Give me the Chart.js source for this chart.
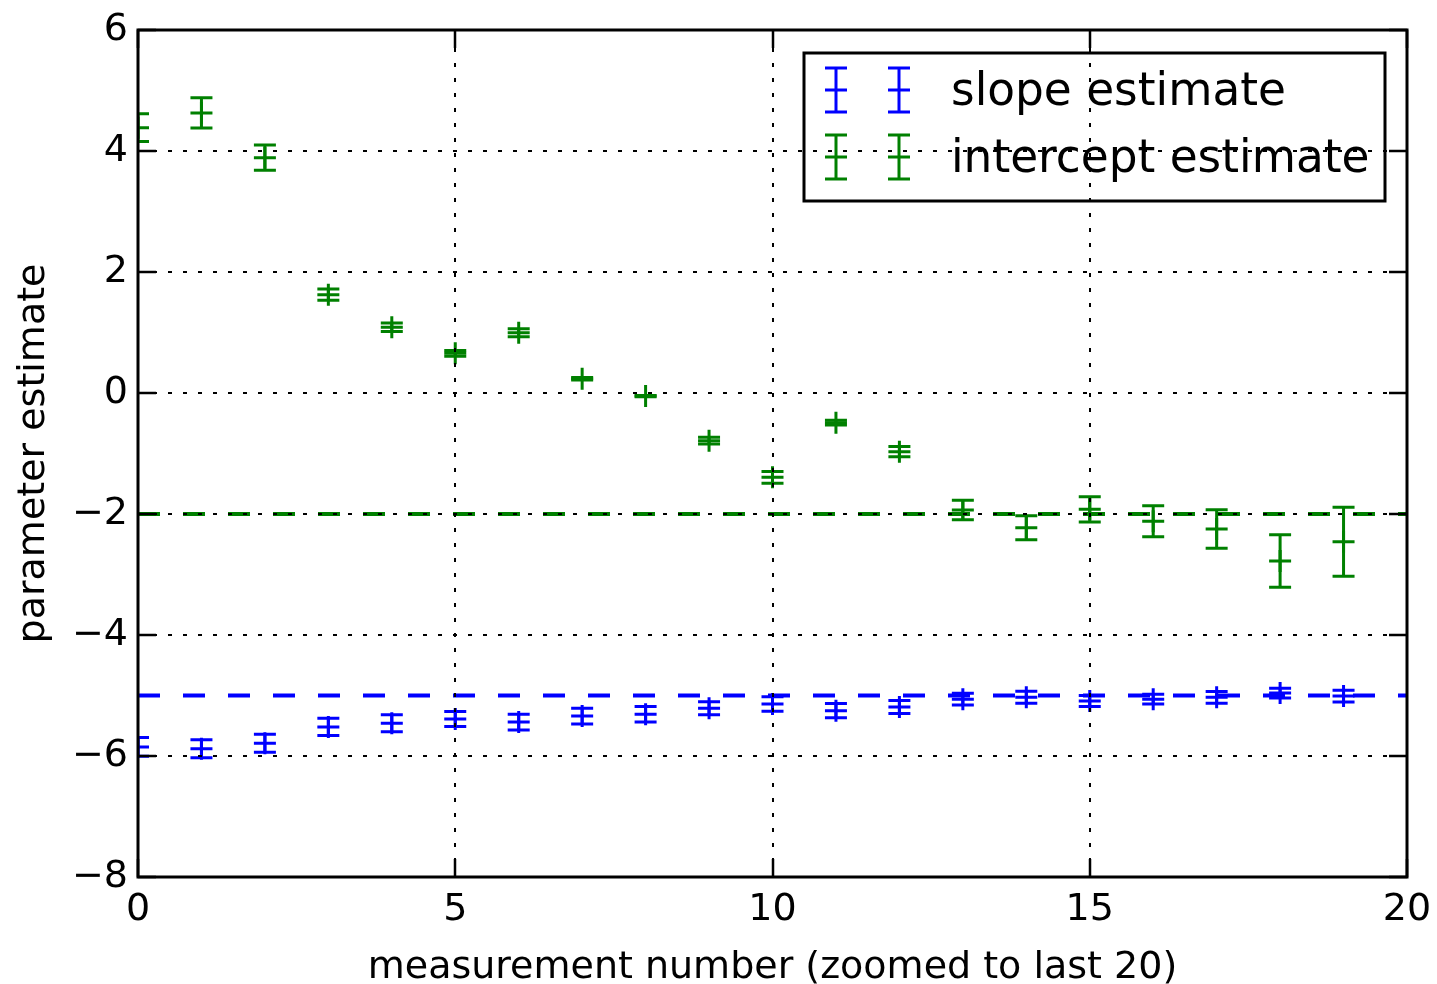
<!DOCTYPE html>
<html>
<head>
<meta charset="utf-8">
<title>parameter estimates</title>
<script src="https://cdn.jsdelivr.net/npm/chart.js@4.4.1/dist/chart.umd.min.js"></script>
<style>
  html, body { margin: 0; padding: 0; background: #ffffff; }
  #wrap { width: 1437px; height: 984px; }
</style>
</head>
<body>
<div id="wrap"><canvas id="chart" width="1437" height="984"></canvas></div>
<script>
// measurement index (last 20 measurements)
const measurement = [0, 1, 2, 3, 4, 5, 6, 7, 8, 9, 10, 11, 12, 13, 14, 15, 16, 17, 18, 19];

// slope estimate and its 1-sigma uncertainty
const slopeEstimate = [-5.85, -5.88, -5.79, -5.52, -5.46, -5.39, -5.44, -5.34, -5.31, -5.21,
                       -5.14, -5.25, -5.19, -5.06, -5.03, -5.09, -5.06, -5.03, -4.96, -5.01];
const slopeError    = [0.155, 0.15, 0.15, 0.143, 0.14, 0.124, 0.13, 0.13, 0.127, 0.107,
                       0.12, 0.118, 0.107, 0.096, 0.10, 0.09, 0.08, 0.097, 0.08, 0.096];

// intercept estimate and its 1-sigma uncertainty
const interceptEstimate = [4.385, 4.63, 3.89, 1.625, 1.086, 0.656, 0.997, 0.236, -0.05, -0.788,
                           -1.393, -0.49, -0.97, -1.934, -2.226, -1.923, -2.12, -2.248, -2.777, -2.457];
const interceptError    = [0.23, 0.25, 0.21, 0.094, 0.07, 0.047, 0.066, 0.02, 0.01, 0.055,
                           0.097, 0.038, 0.085, 0.16, 0.198, 0.21, 0.256, 0.317, 0.433, 0.57];

// true parameter values
const trueSlope = [-5];
const trueIntercept = [-2];

// axis ticks
const xTickValues = [0, 5, 10, 15, 20];
const yTickValues = [-8, -6, -4, -2, 0, 2, 4, 6];

const seriesLabels = ['slope estimate', 'intercept estimate'];
const xAxisTitle = 'measurement number (zoomed to last 20)';
const yAxisTitle = 'parameter estimate';

const BLUE = '#0000ff';
const GREEN = '#008000';
const FONT = 'DejaVu Sans';
const CAP = 11;          // half-width of error bar caps
const TICK_LEN = 18;     // inward tick length

const toPoints = (ys) => measurement.map((x, i) => ({ x: x, y: ys[i] }));
const hline = (v) => [{ x: 0, y: v }, { x: 20, y: v }];
const minusFmt = (v) => (v < 0 ? '\u2212' + Math.abs(v) : String(v));

function drawErrorBar(ctx, px, yTop, yBot, yMid, half) {
  ctx.beginPath();
  ctx.moveTo(px, yTop); ctx.lineTo(px, yBot);
  ctx.moveTo(px - half, yTop); ctx.lineTo(px + half, yTop);
  ctx.moveTo(px - half, yBot); ctx.lineTo(px + half, yBot);
  if (yMid !== null) { ctx.moveTo(px - half, yMid); ctx.lineTo(px + half, yMid); }
  ctx.stroke();
}

// error bars, dotted grid above the data, boxed frame with inward ticks, legend
const overlay = {
  id: 'overlay',
  afterDatasetsDraw(chart) {
    const { ctx, chartArea: a, scales: { x, y } } = chart;

    // error bars
    ctx.save();
    ctx.beginPath();
    ctx.rect(a.left, a.top, a.right - a.left, a.bottom - a.top);
    ctx.clip();
    ctx.lineWidth = 3;
    ctx.lineCap = 'butt';
    [[slopeEstimate, slopeError, BLUE], [interceptEstimate, interceptError, GREEN]].forEach(([vals, errs, col]) => {
      ctx.strokeStyle = col;
      measurement.forEach((m, i) => {
        const px = x.getPixelForValue(m);
        drawErrorBar(ctx, px, y.getPixelForValue(vals[i] + errs[i]), y.getPixelForValue(vals[i] - errs[i]), null, CAP);
      });
    });
    ctx.restore();

    // dotted grid
    ctx.save();
    ctx.strokeStyle = '#000';
    ctx.lineWidth = 2;
    ctx.setLineDash([4, 11]);
    xTickValues.forEach(v => {
      const px = Math.round(x.getPixelForValue(v));
      ctx.beginPath(); ctx.moveTo(px, a.bottom); ctx.lineTo(px, a.top); ctx.stroke();
    });
    yTickValues.forEach(v => {
      const py = Math.round(y.getPixelForValue(v));
      ctx.beginPath(); ctx.moveTo(a.left, py); ctx.lineTo(a.right, py); ctx.stroke();
    });
    ctx.restore();

    // inward ticks on all four sides
    ctx.save();
    ctx.strokeStyle = '#000';
    ctx.lineWidth = 2.5;
    xTickValues.forEach(v => {
      const px = Math.round(x.getPixelForValue(v));
      ctx.beginPath();
      ctx.moveTo(px, a.bottom); ctx.lineTo(px, a.bottom - TICK_LEN);
      ctx.moveTo(px, a.top); ctx.lineTo(px, a.top + TICK_LEN);
      ctx.stroke();
    });
    yTickValues.forEach(v => {
      const py = Math.round(y.getPixelForValue(v));
      ctx.beginPath();
      ctx.moveTo(a.left, py); ctx.lineTo(a.left + TICK_LEN, py);
      ctx.moveTo(a.right, py); ctx.lineTo(a.right - TICK_LEN, py);
      ctx.stroke();
    });
    // frame
    ctx.lineWidth = 3;
    ctx.strokeRect(a.left, a.top, a.right - a.left, a.bottom - a.top);
    ctx.restore();

    // legend (transparent box, two error-bar glyphs per entry)
    ctx.save();
    const lx = a.right - 603, ly = a.top + 23, lw = 581, lh = 148;
    ctx.strokeStyle = '#000';
    ctx.lineWidth = 3;
    ctx.strokeRect(lx, ly, lw, lh);
    const rows = [[seriesLabels[0], BLUE, ly + 37], [seriesLabels[1], GREEN, ly + 104]];
    ctx.font = '45.4px "' + FONT + '"';
    ctx.textAlign = 'left';
    ctx.textBaseline = 'alphabetic';
    rows.forEach(([label, col, cy]) => {
      ctx.strokeStyle = col;
      ctx.lineWidth = 3;
      [lx + 32, lx + 95].forEach(gx => drawErrorBar(ctx, gx, cy - 22, cy + 22, cy, CAP));
      ctx.fillStyle = '#000';
      ctx.fillText(label, lx + 147, cy + 15);
    });
    ctx.restore();
  }
};

const tickFont = { family: FONT, size: 38 };
const titleFont = { family: FONT, size: 38, lineHeight: 0.84 };

new Chart(document.getElementById('chart'), {
  type: 'scatter',
  data: {
    datasets: [
      {
        type: 'line', label: 'true intercept', data: hline(trueIntercept[0]),
        borderColor: GREEN, borderWidth: 4, borderDash: [22, 23], pointRadius: 0, fill: false, clip: 0
      },
      {
        type: 'line', label: 'true slope', data: hline(trueSlope[0]),
        borderColor: BLUE, borderWidth: 4, borderDash: [22, 23], pointRadius: 0, fill: false, clip: 0
      },
      {
        label: seriesLabels[0], data: toPoints(slopeEstimate),
        pointStyle: 'cross', pointRadius: 11, pointHoverRadius: 11,
        borderColor: BLUE, backgroundColor: BLUE, pointBorderWidth: 3, clip: 0
      },
      {
        label: seriesLabels[1], data: toPoints(interceptEstimate),
        pointStyle: 'cross', pointRadius: 11, pointHoverRadius: 11,
        borderColor: GREEN, backgroundColor: GREEN, pointBorderWidth: 3, clip: 0
      }
    ]
  },
  options: {
    responsive: false,
    animation: false,
    devicePixelRatio: 1,
    events: [],
    layout: { padding: { top: 30, right: 30, left: 0, bottom: 0 }, autoPadding: false },
    plugins: { legend: { display: false }, tooltip: { enabled: false } },
    scales: {
      x: {
        type: 'linear', min: 0, max: 20,
        afterBuildTicks: (s) => { s.ticks = xTickValues.map(v => ({ value: v })); },
        afterFit: (s) => { s.height = 107; s.paddingLeft = 0; s.paddingRight = 0; },
        grid: { display: false, drawTicks: false },
        border: { display: false },
        ticks: { color: '#000', font: tickFont, padding: 10, maxRotation: 0, autoSkip: false, callback: minusFmt },
        title: { display: true, text: xAxisTitle, color: '#000', font: titleFont, padding: { top: 0, bottom: 0 } }
      },
      y: {
        type: 'linear', min: -8, max: 6,
        afterBuildTicks: (s) => { s.ticks = yTickValues.map(v => ({ value: v })); },
        afterFit: (s) => { s.width = 138; s.paddingTop = 0; s.paddingBottom = 0; },
        grid: { display: false, drawTicks: false },
        border: { display: false },
        ticks: { color: '#000', font: tickFont, padding: 10, autoSkip: false, callback: minusFmt },
        title: { display: true, text: yAxisTitle, color: '#000', font: titleFont, padding: { top: 18, bottom: 0 } }
      }
    }
  },
  plugins: [overlay]
});
</script>
</body>
</html>
